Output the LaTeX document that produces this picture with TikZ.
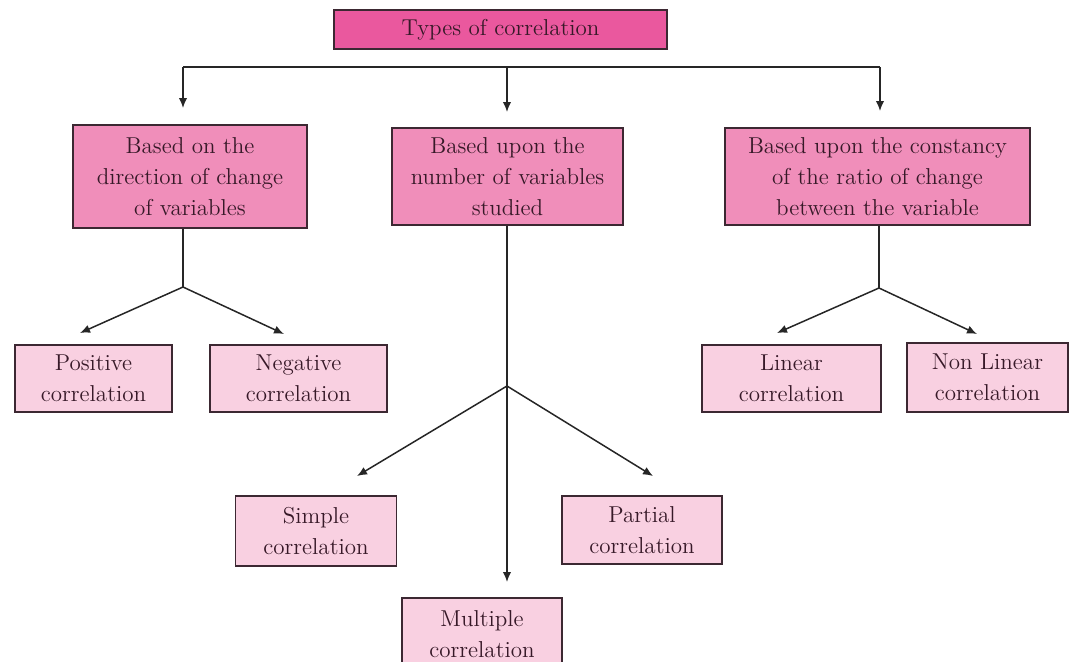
\documentclass[tikz,border=0pt]{standalone}
\usetikzlibrary{arrows.meta}
\definecolor{topfill}{RGB}{234,88,158}
\definecolor{midfill}{RGB}{240,142,186}
\definecolor{leaffill}{RGB}{249,208,225}
\definecolor{edge}{RGB}{60,40,50}
\definecolor{ink}{RGB}{55,25,40}
\begin{document}
\begin{tikzpicture}[x=0.5pt,y=-0.5pt,
  box/.style={draw=edge,line width=0.7pt,align=center,text=ink,
    inner sep=0pt,font=\fontsize{11.5}{15.5}\selectfont},
  topbox/.style={box,fill=topfill},
  midbox/.style={box,fill=midfill},
  leafbox/.style={box,fill=leaffill},
  wire/.style={draw=black!85,line width=0.75pt},
  arr/.style={wire,-{Latex[length=5pt,width=4.2pt]}}]
\useasboundingbox (0,0) rectangle (1073,661);
\begin{scope}
\clip (0,0) rectangle (1073,661);
% root
\node[topbox,minimum width=166.5pt,minimum height=19.5pt] (root) at (500.5,29.5) {Types of correlation};
% second level
\node[midbox,minimum width=117pt,minimum height=51.5pt] (dir) at (190,176.5)
  {Based on the\\direction of change\\of variables};
\node[midbox,minimum width=115.5pt,minimum height=48.5pt] (num) at (507.5,176.5)
  {Based upon the\\number of variables\\studied};
\node[midbox,minimum width=152.5pt,minimum height=48.5pt] (con) at (877.5,176.5)
  {Based upon the constancy\\of the ratio of change\\between the variable};
% leaves
\node[leafbox,minimum width=78.5pt,minimum height=33.5pt] (pos) at (93.5,378.5) {Positive\\correlation};
\node[leafbox,minimum width=88.5pt,minimum height=33.5pt] (neg) at (298.5,378.5) {Negative\\correlation};
\node[leafbox,minimum width=89.5pt,minimum height=33.5pt] (lin) at (791.5,378.5) {Linear\\correlation};
\node[leafbox,minimum width=80.5pt,minimum height=34.5pt] (non) at (987.5,377.5) {Non Linear\\correlation};
\node[leafbox,minimum width=80.5pt,minimum height=35pt] (sim) at (316,531) {Simple\\correlation};
\node[leafbox,minimum width=80pt,minimum height=34pt] (par) at (642,530) {Partial\\correlation};
\node[leafbox,minimum width=80pt,minimum height=36pt] (mul) at (482,634) {Multiple\\correlation};
\end{scope}
% branch points
\coordinate (bl) at (183,67);
\coordinate (bm) at (507,67);
\coordinate (br) at (880,67);
\coordinate (jd) at (183,287);
\coordinate (jn) at (507,386);
\coordinate (jc) at (879,288);
% arrow tips
\coordinate (tdir) at (183,108);
\coordinate (tnum) at (507,112);
\coordinate (tcon) at (880,111);
\coordinate (tpos) at (80,333);
\coordinate (tneg) at (284,334);
\coordinate (tlin) at (777,333);
\coordinate (tnon) at (977,334);
\coordinate (tsim) at (357,476);
\coordinate (tpar) at (653,476);
\coordinate (tmul) at (507,582);
% top distribution bar
\draw[wire] (bl) -- (br);
\draw[arr] (bl) -- (tdir);
\draw[arr] (bm) -- (tnum);
\draw[arr] (br) -- (tcon);
% direction of change
\draw[wire] (dir.south -| jd) -- (jd);
\draw[arr] (jd) -- (tpos);
\draw[arr] (jd) -- (tneg);
% number of variables
\draw[wire] (num.south -| jn) -- (jn);
\draw[arr] (jn) -- (tsim);
\draw[arr] (jn) -- (tpar);
\draw[arr] (jn) -- (tmul);
% constancy of ratio
\draw[wire] (con.south -| jc) -- (jc);
\draw[arr] (jc) -- (tlin);
\draw[arr] (jc) -- (tnon);
\end{tikzpicture}
\end{document}
